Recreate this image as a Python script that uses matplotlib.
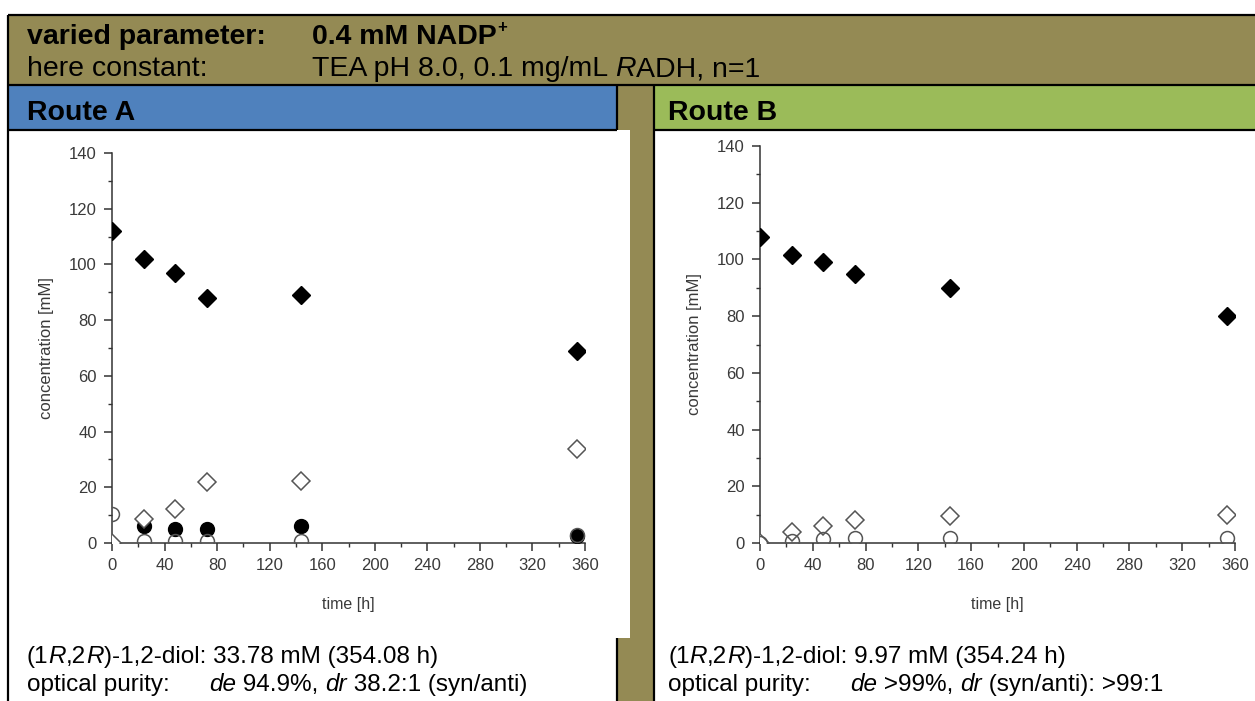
import matplotlib
matplotlib.use("Agg")
import matplotlib.pyplot as plt
from matplotlib.patches import Rectangle
import numpy as np

FONT = ["Liberation Sans", "DejaVu Sans"]
plt.rcParams["font.family"] = FONT

W, H = 1255, 701
OLIVE = "#948A54"
BLUE = "#4F81BD"
GREEN = "#9BBB59"
HEAD_SIZE = 20.5
BODY_SIZE = 17.5

# Route A time course (mM)
time_a = [0, 24, 48, 72, 144, 354.08]
ketone_a = [112, 102, 97, 88, 89, 69]
diol_a = [0, 8.5, 12.3, 21.8, 22.4, 33.78]
hydroxyketone_a = [np.nan, 6.2, 5.0, 5.1, 6.0, 2.5]
side_a = [10.3, 0.8, 0.8, 0.8, 0.8, 3.0]

# Route B time course (mM)
time_b = [0, 24, 48, 72, 144, 354.24]
ketone_b = [108, 101.5, 99, 95, 90, 80]
diol_b = [0, 3.8, 5.9, 8.2, 9.6, 9.97]
side_b = [0, 0.8, 1.3, 1.8, 1.8, 1.8]

x_ticks = [0, 40, 80, 120, 160, 200, 240, 280, 320, 360]
y_ticks = [0, 20, 40, 60, 80, 100, 120, 140]

fig = plt.figure(figsize=(W / 100, H / 100), dpi=100)
bg = fig.add_axes([0, 0, 1, 1])
bg.set_xlim(0, W)
bg.set_ylim(H, 0)
bg.axis("off")


def box(x0, y0, x1, y1, color):
    bg.add_patch(Rectangle((x0, y0), x1 - x0, y1 - y0, facecolor=color,
                           edgecolor="none", zorder=1))


def hline(y, x0, x1):
    bg.plot([x0, x1], [y, y], color="black", lw=1.6, zorder=3,
            solid_capstyle="butt")


def vline(x, y0, y1):
    bg.plot([x, x], [y0, y1], color="black", lw=1.6, zorder=3,
            solid_capstyle="butt")


# panels
box(8, 15, W, 85, OLIVE)
box(8, 85, 617, 130, BLUE)
box(617, 85, 654, H, OLIVE)
box(654, 85, W, 130, GREEN)
box(8, 130, 630, 638, "white")

hline(15, 8, W)
hline(85, 8, W)
hline(130, 8, 617)
hline(130, 654, W)
vline(8, 15, H)
vline(617, 85, 130)
vline(617, 638, H)
vline(654, 85, H)

renderer = fig.canvas.get_renderer()


def text_width(s, size, style, weight):
    # pad with a visible glyph so spaces at the ends are counted
    t1 = bg.text(0, 0, "x" + s + "x", fontsize=size, fontstyle=style,
                 fontweight=weight)
    t2 = bg.text(0, 0, "xx", fontsize=size, fontstyle=style,
                 fontweight=weight)
    w = t1.get_window_extent(renderer).width - t2.get_window_extent(renderer).width
    t1.remove()
    t2.remove()
    return w


def rich(x, y, parts, size=BODY_SIZE, weight="normal"):
    for s, style in parts:
        bg.text(x, y, s, fontsize=size, fontstyle=style, fontweight=weight,
                va="baseline", ha="left", zorder=4)
        x += text_width(s, size, style, weight)
    return x


# header
rich(27, 44, [("varied parameter:", "normal")], HEAD_SIZE, "bold")
end = rich(312, 44, [("0.4 mM NADP", "normal")], HEAD_SIZE, "bold")
bg.text(end + 1, 32, "+", fontsize=12, fontweight="bold", va="baseline",
        zorder=4)
rich(27, 76, [("here constant:", "normal")], HEAD_SIZE)
rich(312, 76, [("TEA pH 8.0, 0.1 mg/mL ", "normal"), ("R", "italic"),
               ("ADH, n=1", "normal")], HEAD_SIZE)
rich(27, 120, [("Route A", "normal")], HEAD_SIZE, "bold")
rich(668, 120, [("Route B", "normal")], HEAD_SIZE, "bold")

# result lines
rich(27, 663, [("(1", "normal"), ("R", "italic"), (",2", "normal"),
               ("R", "italic"), (")-1,2-diol: 33.78 mM (354.08 h)", "normal")])
rich(27, 691, [("optical purity:", "normal")])
rich(209, 691, [("de", "italic"), (" 94.9%, ", "normal"), ("dr", "italic"),
                (" 38.2:1 (syn/anti)", "normal")])
rich(668, 663, [("(1", "normal"), ("R", "italic"), (",2", "normal"),
                ("R", "italic"), (")-1,2-diol: 9.97 mM (354.24 h)", "normal")])
rich(668, 691, [("optical purity:", "normal")])
rich(850, 691, [("de", "italic"), (" >99%, ", "normal"), ("dr", "italic"),
                (" (syn/anti): >99:1", "normal")])


def time_plot(rect, t, ketone, diol, side, hk=None):
    ax = fig.add_axes(rect)
    ax.set_facecolor("none")
    ax.plot(t, ketone, "D", ms=9, color="black", zorder=3)
    if hk is not None:
        ax.plot(t, hk, "o", ms=10, color="black", zorder=3)
    ax.plot(t, diol, "D", ms=9, mfc="white", mec="#555555", mew=1.1,
            linestyle="none", zorder=3)
    ax.plot(t, side, "o", ms=10, mfc="none", mec="#555555", mew=1.1,
            linestyle="none", zorder=4)
    ax.set_xlim(0, 360)
    ax.set_ylim(0, 140)
    ax.set_xticks(x_ticks)
    ax.set_yticks(y_ticks)
    ax.set_xticks(np.arange(20, 360, 40), minor=True)
    ax.set_yticks(np.arange(10, 140, 20), minor=True)
    for side_name in ("top", "right"):
        ax.spines[side_name].set_visible(False)
    for side_name in ("left", "bottom"):
        ax.spines[side_name].set_color("#333333")
        ax.spines[side_name].set_linewidth(1.1)
    ax.tick_params(which="major", direction="out", length=6, width=1.1,
                   color="#333333", labelsize=12, labelcolor="#3a3a3a")
    ax.tick_params(axis="x", which="major", pad=5)
    ax.tick_params(axis="y", which="major", pad=5)
    ax.tick_params(which="minor", direction="out", length=3, width=1.0,
                   color="#333333")
    ax.set_xlabel("time [h]", fontsize=11.5, color="#3a3a3a", labelpad=17)
    ax.set_ylabel("concentration [mM]", fontsize=12, color="#3a3a3a",
                  labelpad=11)
    return ax


time_plot([112 / W, 1 - 543 / H, 473 / W, 390 / H],
          time_a, ketone_a, diol_a, side_a, hydroxyketone_a)
time_plot([760 / W, 1 - 543 / H, 475 / W, 397 / H],
          time_b, ketone_b, diol_b, side_b)

fig.savefig("out.png", dpi=100)
